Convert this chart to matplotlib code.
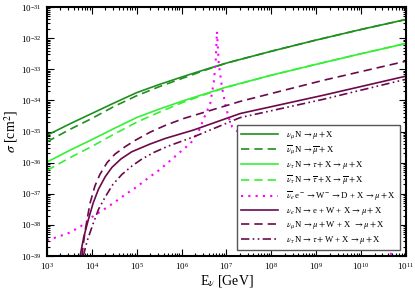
import numpy as np
import matplotlib.pyplot as plt

plt.rcParams['font.family'] = ['Liberation Serif', 'DejaVu Serif']
plt.rcParams['mathtext.fontset'] = 'stix'

# log10(E/GeV), log10(sigma/cm^2)
numu_lE = [3.0, 3.5, 4.0, 4.5, 5.0, 5.5, 6.0, 6.5, 7.0, 8.0, 9.0, 10.0, 11.0]
numu_ls = [-35.12, -34.76, -34.42, -34.08, -33.75, -33.49, -33.25, -33.02, -32.8, -32.42, -32.06, -31.72, -31.4]
numubar_lE = [3.0, 3.5, 4.0, 4.5, 5.0, 5.5, 6.0, 6.5, 7.0, 8.0, 9.0, 10.0, 11.0]
numubar_ls = [-35.33, -34.94, -34.58, -34.19, -33.85, -33.56, -33.3, -33.04, -32.8, -32.42, -32.06, -31.72, -31.4]
nutau_lE = [3.0, 3.5, 4.0, 4.5, 5.0, 5.5, 6.0, 6.5, 7.0, 8.0, 9.0, 10.0, 11.0]
nutau_ls = [-35.98, -35.61, -35.26, -34.9, -34.55, -34.28, -34.03, -33.8, -33.57, -33.19, -32.84, -32.5, -32.17]
nutaubar_lE = [3.0, 3.5, 4.0, 4.5, 5.0, 5.5, 6.0, 6.5, 7.0, 8.0, 9.0, 10.0, 11.0]
nutaubar_ls = [-36.25, -35.85, -35.48, -35.08, -34.7, -34.38, -34.08, -33.82, -33.58, -33.19, -32.84, -32.5, -32.17]
glashow_lE = [3.0, 3.25, 3.5, 3.75, 4.0, 4.25, 4.5, 4.75, 5.0, 5.25, 5.5, 5.75, 6.0, 6.2, 6.38, 6.53,
              6.64, 6.72, 6.76, 6.79, 6.83, 6.9, 6.98, 7.05, 7.13, 7.5, 8.0, 9.0, 10.0, 10.73, 11.0]
glashow_ls = [-38.49, -38.38, -38.25, -38.05, -37.75, -37.52, -37.28, -37.02, -36.78, -36.5, -36.24, -35.93,
              -35.62, -35.38, -35.0, -34.47, -34.1, -33.4, -32.8, -31.79, -32.81, -33.56, -34.15, -34.55,
              -34.85, -35.3, -35.85, -37.0, -38.15, -39.0, -39.3]
nueW_lE = [3.74, 3.82, 3.92, 4.03, 4.15, 4.3, 4.45, 4.65, 4.89, 5.3, 5.64, 6.27, 7.31, 9.17, 11.0]
nueW_ls = [-39.0, -38.4, -37.85, -37.3, -36.85, -36.45, -36.15, -35.88, -35.65, -35.4, -35.22, -34.95, -34.42, -33.83, -33.22]
numuW_lE = [3.78, 3.85, 3.96, 4.07, 4.18, 4.34, 4.52, 4.75, 4.97, 5.3, 5.64, 6.05, 7.31, 9.17, 11.0]
numuW_ls = [-39.0, -38.2, -37.31, -36.75, -36.38, -36.0, -35.72, -35.48, -35.28, -35.02, -34.8, -34.58, -34.03, -33.35, -32.74]
nutauW_lE = [3.81, 3.9, 4.03, 4.15, 4.3, 4.47, 4.67, 4.9, 5.12, 5.4, 5.7, 6.27, 7.31, 9.17, 11.0]
nutauW_ls = [-39.0, -38.5, -37.96, -37.5, -37.1, -36.7, -36.38, -36.1, -35.88, -35.66, -35.47, -35.17, -34.55, -33.96, -33.32]

dkgreen = '#1f8f1f'
ltgreen = '#35f035'
purple = '#6a0a4a'

fig = plt.figure(figsize=(4.15, 2.94), dpi=100)
ax = fig.add_axes([0.113, 0.129, 0.865, 0.847])

def p(logE, logS, **kw):
    ax.plot(10**np.array(logE), 10**np.array(logS), **kw)

p(numu_lE, numu_ls, color=dkgreen, lw=1.2, label=r'$\nu_\mu\,$N$\,\rightarrow\mu + $X')
p(numubar_lE, numubar_ls, color=dkgreen, lw=1.2, ls=(0, (5, 3)), label=r'$\overline{\nu}_\mu\,$N$\,\rightarrow\overline{\mu} + $X')
p(nutau_lE, nutau_ls, color=ltgreen, lw=1.2, label=r'$\nu_\tau\,$N$\,\rightarrow\tau + $X$\,\rightarrow\mu + $X')
p(nutaubar_lE, nutaubar_ls, color=ltgreen, lw=1.2, ls=(0, (5, 3)), label=r'$\overline{\nu}_\tau\,$N$\,\rightarrow\overline{\tau} + $X$\,\rightarrow\overline{\mu} + $X')
p(glashow_lE, glashow_ls, color='#ff00ff', lw=1.5, ls=(0, (1, 2.5)), label=r'$\overline{\nu}_e\,$e$^-\rightarrow$W$^-\rightarrow$D + X$\,\rightarrow\mu + $X')
p(nueW_lE, nueW_ls, color=purple, lw=1.2, label=r'$\nu_e\,$N$\,\rightarrow$e + W + X$\,\rightarrow\mu + $X')
p(numuW_lE, numuW_ls, color=purple, lw=1.2, ls=(0, (5, 3)), label=r'$\nu_\mu\,$N$\,\rightarrow\mu + $W + X $\,\rightarrow\mu + $X')
p(nutauW_lE, nutauW_ls, color=purple, lw=1.2, ls=(0, (5, 2, 1, 2, 1, 2)), label=r'$\nu_\tau\,$N$\,\rightarrow\tau + $W + X$\,\rightarrow\mu + $X')

ax.set_xscale('log')
ax.set_yscale('log')
ax.set_xlim(1e3, 1e11)
ax.set_ylim(1e-39, 1e-31)
ax.set_xticks([10.0**k for k in range(3, 12)])
ax.set_yticks([10.0**k for k in range(-39, -30)])
ax.tick_params(which='both', direction='in', top=True, right=True, labelsize=6.5, width=0.8)
ax.tick_params(which='major', length=5)
ax.tick_params(which='minor', length=2.5)
for s in ax.spines.values():
    s.set_linewidth(1.5)
ax.set_xlabel(r'E$_\nu$ [GeV]', fontsize=10, labelpad=1)
ax.set_ylabel(r'$\sigma$ [cm$^2$]', fontsize=10, labelpad=1)

leg = ax.legend(loc='lower right', bbox_to_anchor=(0.995, 0.008), fontsize=6.3, handlelength=4.2,
                handletextpad=0.9, labelspacing=0.27, borderpad=0.45, fancybox=False, framealpha=1,
                edgecolor='#555555')
leg.get_frame().set_linewidth(1.0)

fig.savefig('out.png', dpi=100)
